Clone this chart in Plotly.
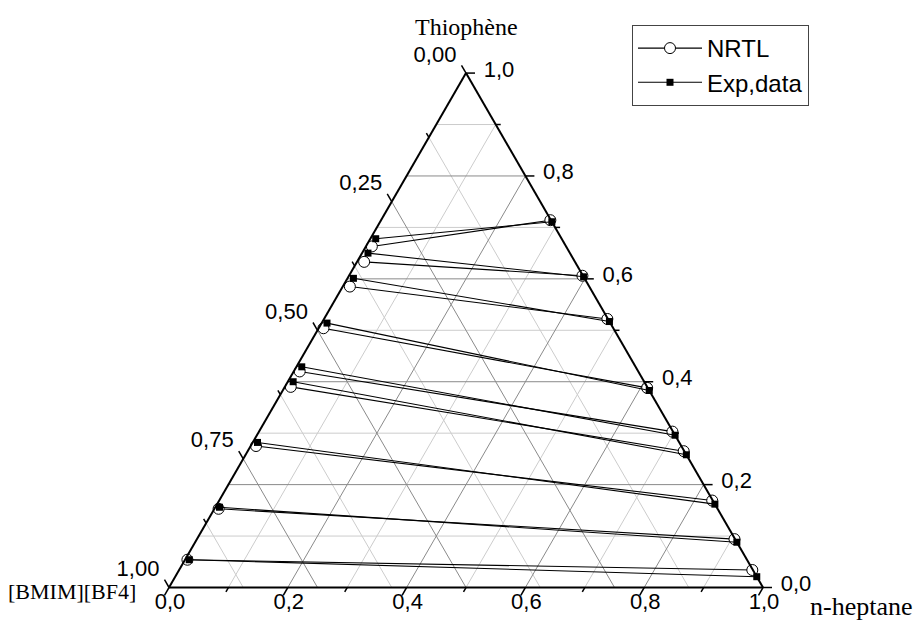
import math
import plotly.graph_objects as go

# ---------------- data (mole fractions) ----------------
tie_ids = [1, 2, 3, 4, 5, 6, 7, 8, 9]

# IL-rich (extract) phase, NRTL
nrtl_ext_thio = [0.663, 0.633, 0.585, 0.504, 0.420, 0.390, 0.275, 0.153, 0.054]
nrtl_ext_bmim = [0.327, 0.355, 0.403, 0.488, 0.570, 0.600, 0.716, 0.840, 0.942]
nrtl_ext_hept = [0.010, 0.012, 0.012, 0.008, 0.010, 0.010, 0.009, 0.007, 0.004]
# heptane-rich (raffinate) phase, NRTL
nrtl_raf_thio = [0.714, 0.606, 0.522, 0.388, 0.303, 0.265, 0.169, 0.094, 0.034]
nrtl_raf_bmim = [0.001, 0.001, 0.001, 0.001, 0.001, 0.001, 0.001, 0.001, 0.001]
nrtl_raf_hept = [0.285, 0.393, 0.477, 0.611, 0.696, 0.734, 0.830, 0.905, 0.965]

# experimental extract phase
exp_ext_thio = [0.678, 0.650, 0.601, 0.514, 0.429, 0.400, 0.282, 0.156, 0.054]
exp_ext_bmim = [0.313, 0.340, 0.389, 0.477, 0.562, 0.591, 0.710, 0.837, 0.939]
exp_ext_hept = [0.009, 0.010, 0.010, 0.009, 0.009, 0.009, 0.008, 0.007, 0.007]
# experimental raffinate phase
exp_raf_thio = [0.711, 0.604, 0.517, 0.383, 0.296, 0.258, 0.162, 0.088, 0.021]
exp_raf_bmim = [0.000, 0.000, 0.000, 0.000, 0.000, 0.000, 0.000, 0.000, 0.000]
exp_raf_hept = [0.289, 0.396, 0.483, 0.617, 0.704, 0.742, 0.838, 0.912, 0.979]

# axis ticks
thio_ticks = [0.0, 0.1, 0.2, 0.3, 0.4, 0.5, 0.6, 0.7, 0.8, 0.9, 1.0]
thio_labels = ["0,0", "", "0,2", "", "0,4", "", "0,6", "", "0,8", "", "1,0"]
hept_ticks = [0.0, 0.1, 0.2, 0.3, 0.4, 0.5, 0.6, 0.7, 0.8, 0.9, 1.0]
hept_labels = ["0,0", "", "0,2", "", "0,4", "", "0,6", "", "0,8", "", "1,0"]
bmim_ticks = [0.0, 0.125, 0.25, 0.375, 0.5, 0.625, 0.75, 0.875, 1.0]
bmim_labels = ["0,00", "", "0,25", "", "0,50", "", "0,75", "", "1,00"]

# grid
thio_grid_major = [0.2, 0.4, 0.6, 0.8]
thio_grid_minor = [0.1, 0.3, 0.5, 0.7, 0.9]
hept_grid_major = [0.2, 0.4, 0.6, 0.8]
hept_grid_minor = [0.1, 0.3, 0.5, 0.7, 0.9]
bmim_grid_major = [0.25, 0.5, 0.75]
bmim_grid_minor = [0.125, 0.375, 0.625, 0.875]

SANS = "Liberation Sans, Arial, sans-serif"
SERIF = "Liberation Serif, Times New Roman, serif"
FS = 22

# geometry of the ternary subplot (pixels) -- shared by the ternary domain
# and by the pixel-unit overlay axes that carry the Origin-style ticks
FIG_W, FIG_H = 923, 628
X0, Y0, SIDE = 169.0, 587.5, 594.0
HT = SIDE * math.sqrt(3) / 2


def to_px(a, b, c):
    return X0 + SIDE * (c + a / 2), Y0 - HT * a


def grid_lines(thio_vals, hept_vals, bmim_vals):
    a, b, c = [], [], []
    for t in thio_vals:
        a += [t, t, None]; b += [1 - t, 0, None]; c += [0, 1 - t, None]
    for h in hept_vals:
        a += [0, 1 - h, None]; b += [1 - h, 0, None]; c += [h, h, None]
    for m in bmim_vals:
        a += [0, 1 - m, None]; b += [m, m, None]; c += [1 - m, 0, None]
    return a, b, c


def ties(ta, tb, tc, ra, rb, rc):
    a, b, c = [], [], []
    for i in range(len(ta)):
        a += [ta[i], ra[i], None]
        b += [tb[i], rb[i], None]
        c += [tc[i], rc[i], None]
    return a, b, c


fig = go.Figure()

for (tv, hv, bv, col) in [(thio_grid_minor, hept_grid_minor, bmim_grid_minor, "#cccccc"),
                          (thio_grid_major, hept_grid_major, bmim_grid_major, "#8a8a8a")]:
    ga, gb, gc = grid_lines(tv, hv, bv)
    fig.add_trace(go.Scatterternary(a=ga, b=gb, c=gc, mode="lines",
                                    line=dict(color=col, width=1),
                                    showlegend=False, hoverinfo="skip"))

na, nb, nc = ties(nrtl_ext_thio, nrtl_ext_bmim, nrtl_ext_hept,
                  nrtl_raf_thio, nrtl_raf_bmim, nrtl_raf_hept)
fig.add_trace(go.Scatterternary(a=na, b=nb, c=nc, mode="lines+markers", name="NRTL",
                                cliponaxis=False,
                                line=dict(color="black", width=1.1),
                                marker=dict(symbol="circle", size=11, color="white",
                                            line=dict(color="black", width=1))))
ea, eb, ec = ties(exp_ext_thio, exp_ext_bmim, exp_ext_hept,
                  exp_raf_thio, exp_raf_bmim, exp_raf_hept)
fig.add_trace(go.Scatterternary(a=ea, b=eb, c=ec, mode="lines+markers", name="Exp,data",
                                cliponaxis=False,
                                line=dict(color="black", width=1.1),
                                marker=dict(symbol="square", size=7, color="black")))

# ---- Origin-style ticks and labels on pixel-unit overlay axes ----
S3 = math.sqrt(3) / 2
tick_sets = [
    # values, labels, edge-point function, outward direction, label offset
    (thio_ticks, thio_labels, lambda v: (v, 0.0, 1 - v), (1.0, 0.0), (33, -2)),
    (hept_ticks, hept_labels, lambda v: (0.0, 1 - v, v), (-0.5, S3), (1, 16)),
    (bmim_ticks, bmim_labels, lambda v: (1 - v, v, 0.0), (-0.5, -S3), (-31, -17)),
]
tx, ty, lx, ly, lt = [], [], [], [], []
for vals, labs, edge, (dx, dy), (ox, oy) in tick_sets:
    for v, lab in zip(vals, labs):
        px, py = to_px(*edge(v))
        ln = 9 if lab else 5
        tx += [px, px + dx * ln, None]
        ty += [py, py + dy * ln, None]
        if lab:
            lx.append(px + ox); ly.append(py + oy); lt.append(lab)

fig.add_trace(go.Scatter(x=tx, y=ty, mode="lines", line=dict(color="black", width=1.5),
                         showlegend=False, hoverinfo="skip", xaxis="x", yaxis="y"))
fig.add_trace(go.Scatter(x=lx, y=ly, text=lt, mode="text", textposition="middle center",
                         textfont=dict(family=SANS, size=FS, color="black"),
                         showlegend=False, hoverinfo="skip", xaxis="x", yaxis="y"))

axis_common = dict(min=0, showgrid=False, showticklabels=False, ticks="",
                   linecolor="black", linewidth=2, title=dict(text=""))
fig.update_layout(
    width=FIG_W, height=FIG_H,
    margin=dict(l=0, r=0, t=0, b=0, pad=0),
    paper_bgcolor="white",
    plot_bgcolor="rgba(0,0,0,0)",
    xaxis=dict(range=[0, FIG_W], domain=[0, 1], visible=False, fixedrange=True),
    yaxis=dict(range=[FIG_H, 0], domain=[0, 1], visible=False, fixedrange=True),
    ternary=dict(
        sum=1,
        bgcolor="white",
        domain=dict(x=[X0 / FIG_W, (X0 + SIDE) / FIG_W],
                    y=[(FIG_H - Y0) / FIG_H, (FIG_H - Y0 + HT) / FIG_H]),
        aaxis=axis_common, baxis=axis_common, caxis=axis_common,
    ),
    legend=dict(x=632 / FIG_W, y=1 - 25 / FIG_H, xanchor="left", yanchor="top",
                bordercolor="#444444", borderwidth=1, bgcolor="white",
                font=dict(family=SANS, size=24, color="black"),
                itemwidth=64, tracegroupgap=0),
    annotations=[
        dict(text="Thiophène", x=466 / FIG_W, y=1 - 27 / FIG_H, xref="paper", yref="paper",
             xanchor="center", yanchor="middle",
             showarrow=False, font=dict(family=SERIF, size=24, color="black")),
        dict(text="[BMIM][BF4]", x=72 / FIG_W, y=1 - 591 / FIG_H, xref="paper", yref="paper",
             xanchor="center", yanchor="middle",
             showarrow=False, font=dict(family=SERIF, size=22, color="black")),
        dict(text="n-heptane", x=861 / FIG_W, y=1 - 606 / FIG_H, xref="paper", yref="paper",
             xanchor="center", yanchor="middle",
             showarrow=False, font=dict(family=SERIF, size=26, color="black")),
    ],
)

fig.write_html("out.html")
